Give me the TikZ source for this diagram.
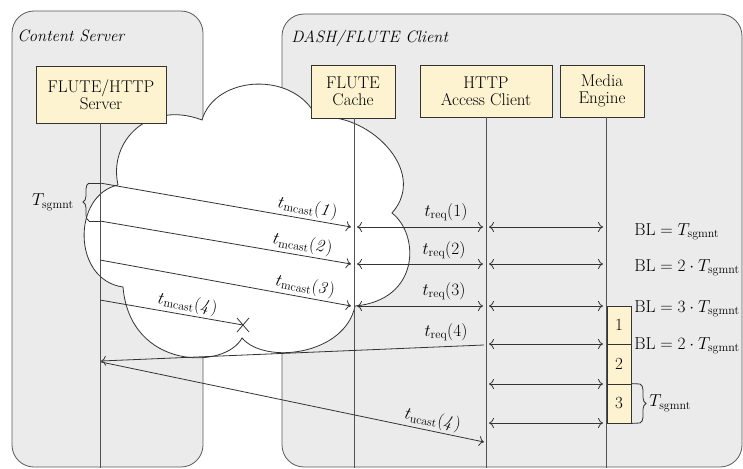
\documentclass[tikz,border=0pt]{standalone}
\usetikzlibrary{arrows.meta,decorations.pathreplacing}
\DeclareMathSizes{17}{17}{12.8}{10}
\definecolor{panelgray}{HTML}{EBEBEB}
\definecolor{paneledge}{HTML}{5A5A5A}
\definecolor{actorfill}{HTML}{FDF3D0}
\definecolor{ink}{HTML}{333333}
\begin{document}
\begin{tikzpicture}[x=1pt,y=-1pt,
  font=\fontsize{17}{17}\selectfont,
  line width=0.8pt,
  >={Computer Modern Rightarrow[length=5pt,width=10pt]},
  panel/.style={draw=paneledge,fill=panelgray,rounded corners=22pt},
  paneltitle/.style={anchor=base west,inner sep=0pt,font=\fontsize{16.5}{17}\selectfont\itshape},
  actor/.style={draw=ink,fill=actorfill,align=center,inner sep=0pt},
  lifeline/.style={draw=ink!85},
  msg/.style={draw=ink,->},
  both/.style={draw=ink,<->},
  plain/.style={draw=ink},
  buf/.style={draw=ink,fill=actorfill,minimum width=24pt,inner sep=0pt},
  sgbrace/.style={draw=ink,decorate,decoration={brace,amplitude=6pt}},
  lbl/.style={inner sep=2pt},
  bl/.style={anchor=base west,inner sep=0pt},
]
\useasboundingbox (0,0) rectangle (743,468);

% the two hosts
\draw[panel] (12,11) rectangle (203,467);
\draw[panel] (282,14) rectangle (742,467);
\node[paneltitle] (csTitle) at (17,42) {Content Server};
\node[paneltitle] (clTitle) at (291,42.5) {DASH/FLUTE Client};

% broadcast cloud
\draw[draw=ink,fill=white]
  (118,185) .. controls (108,140) and (150,100) .. (202,120)
  .. controls (215,75) and (295,70) .. (317,118)
  .. controls (365,110) and (430,170) .. (392,213)
  .. controls (420,235) and (420,300) .. (355,306)
  .. controls (345,355) and (265,365) .. (242,338)
  .. controls (225,370) and (130,370) .. (123,287)
  .. controls (72,280) and (72,195) .. (118,185) -- cycle;

% components
\node[actor,minimum width=130pt,minimum height=57pt] (srv) at (101,94.5) {FLUTE/HTTP\\Server};
\node[actor,minimum width=84pt,minimum height=53pt] (cache) at (353,91.5) {FLUTE\\Cache};
\node[actor,minimum width=132pt,minimum height=52pt] (http) at (486,91) {HTTP\\Access Client};
\node[actor,minimum width=84pt,minimum height=52pt] (media) at (602,91) {Media\\Engine};

% lifelines
\coordinate (srvB) at (100,468);
\coordinate (cacheB) at (354,468);
\coordinate (httpB) at (486,468);
\coordinate (mediaB) at (606,468);
\draw[lifeline] (srv.south -| srvB) -- (srvB);
\draw[lifeline] (cache.south -| cacheB) -- (cacheB);
\draw[lifeline] (http.south -| httpB) -- (httpB);
\draw[lifeline] (media.south -| mediaB) -- (mediaB);

% multicast segments
\coordinate (m1s) at (100,183); \coordinate (m1e) at (351,227);
\coordinate (m2s) at (100,221); \coordinate (m2e) at (351,264);
\coordinate (m3s) at (100,260); \coordinate (m3e) at (351,306);
\coordinate (m4s) at (100,300); \coordinate (lost) at (243,325);
\draw[msg] (m1s) -- node[sloped,above,pos=0.82,lbl] {$t_{\mathrm{mcast}}\mathit{(1)}$} (m1e);
\draw[msg] (m2s) -- node[sloped,above,pos=0.80,lbl] {$t_{\mathrm{mcast}}\mathit{(2)}$} (m2e);
\draw[msg] (m3s) -- node[sloped,above,pos=0.81,lbl] {$t_{\mathrm{mcast}}\mathit{(3)}$} (m3e);
\draw[plain] (m4s) -- node[sloped,above,pos=0.6,lbl] {$t_{\mathrm{mcast}}\mathit{(4)}$} (lost);
\draw[plain] (lost) +(-6,-7) -- +(6,7);
\draw[plain] (lost) +(-6,7) -- +(6,-7);

% segment period at the server
\coordinate (bt) at (89,183); \coordinate (bb) at (89,221);
\draw[plain] (bt) -- (m1s);
\draw[plain] (bb) -- (m2s);
\draw[sgbrace] (bb) -- node[left=13pt,lbl] (tsL) {$T_{\mathrm{sgmnt}}$} (bt);

% requests between cache, access client and media engine
\foreach \r/\y in {1/227,2/264,3/306} {
  \coordinate (c\r) at (357,\y); \coordinate (hl\r) at (483,\y);
  \draw[both] (c\r) -- (hl\r);
}
\foreach \r/\y in {1/227,2/264,3/306,4/344,5/384,6/423} {
  \coordinate (hr\r) at (489,\y); \coordinate (me\r) at (603,\y);
  \draw[both] (hr\r) -- (me\r);
}
\node[lbl] (tr1) at (446,212) {$t_{\mathrm{req}}(1)$};
\node[lbl] (tr2) at (444,250) {$t_{\mathrm{req}}(2)$};
\node[lbl] (tr3) at (444,291) {$t_{\mathrm{req}}(3)$};
\node[lbl] (tr4) at (446,332) {$t_{\mathrm{req}}(4)$};

% unicast repair of the lost segment
\coordinate (q4s) at (484,345); \coordinate (q4e) at (101,361);
\coordinate (u4s) at (101,362); \coordinate (u4e) at (484,442);
\draw[msg] (q4s) -- (q4e);
\draw[msg] (u4s) -- node[sloped,above,pos=0.86,lbl] {$t_{\mathrm{ucast}}\mathit{(4)}$} (u4e);

% buffer level
\node[bl] (bl1) at (634,235) {$\mathrm{BL} = T_{\mathrm{sgmnt}}$};
\node[bl] (bl2) at (634,271) {$\mathrm{BL} = 2\cdot T_{\mathrm{sgmnt}}$};
\node[bl] (bl3) at (634,312) {$\mathrm{BL} = 3\cdot T_{\mathrm{sgmnt}}$};
\node[bl] (bl4) at (634,349) {$\mathrm{BL} = 2\cdot T_{\mathrm{sgmnt}}$};

\node[buf,minimum height=38pt] (s1) at (619,325) {1};
\node[buf,minimum height=40pt] (s2) at (619,364) {2};
\node[buf,minimum height=39pt] (s3) at (619,403.5) {3};

\coordinate (rt) at (640,384); \coordinate (rb) at (640,423);
\draw[plain] (s3.north east) -- (rt);
\draw[plain] (s3.south east) -- (rb);
\draw[sgbrace] (rt) -- node[right=7pt,lbl] (tsR) {$T_{\mathrm{sgmnt}}$} (rb);
\end{tikzpicture}
\end{document}
